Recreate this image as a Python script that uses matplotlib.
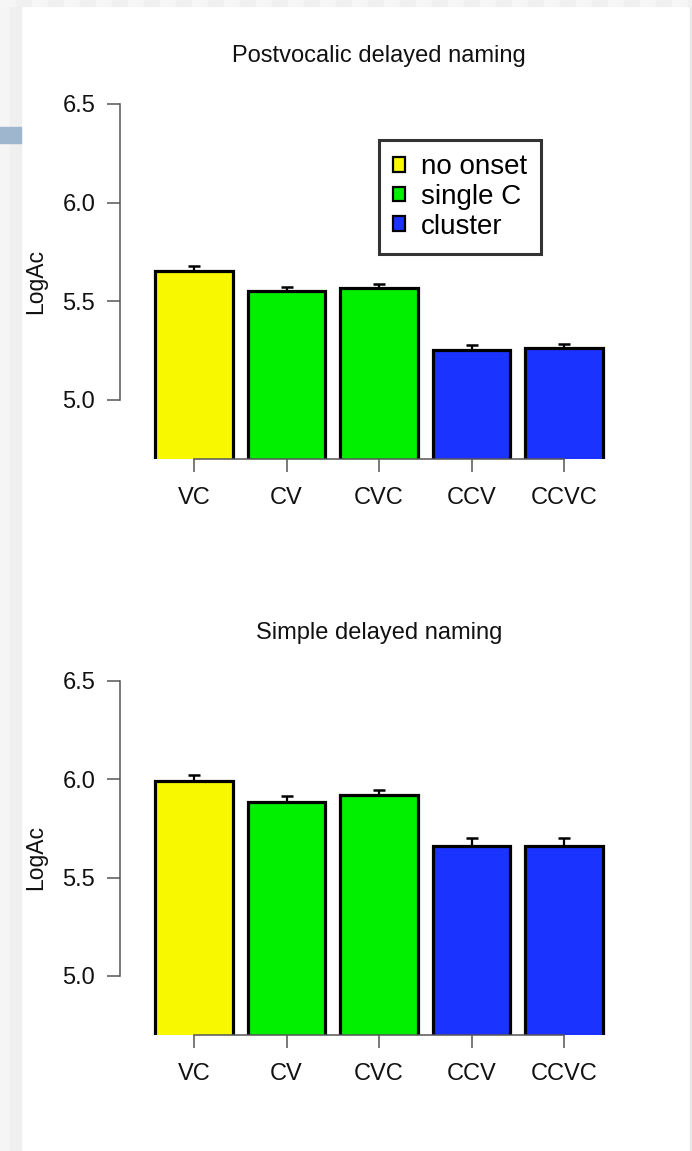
import matplotlib
matplotlib.use("Agg")
import matplotlib.pyplot as plt
from matplotlib.patches import Patch, Rectangle

plt.rcParams['font.family'] = ['Liberation Sans', 'DejaVu Sans']

# data
categories = ['VC', 'CV', 'CVC', 'CCV', 'CCVC']
onset_type = ['no onset', 'single C', 'single C', 'cluster', 'cluster']
onset_colors = {'no onset': '#F8F800', 'single C': '#00F000', 'cluster': '#1A33FF'}

post_means = [5.655, 5.553, 5.567, 5.255, 5.261]
post_se = [0.025, 0.021, 0.022, 0.024, 0.024]

simple_means = [5.991, 5.884, 5.919, 5.661, 5.661]
simple_se = [0.030, 0.029, 0.027, 0.039, 0.039]

y_ticks = [5.0, 5.5, 6.0, 6.5]

W, H = 692, 1151
fig = plt.figure(figsize=(W / 100, H / 100), dpi=100)

# page background (screenshot border)
deco = [
    (0, 0, 10, H, '#f5f5f5'),
    (10, 0, 21, H, '#efefef'),
    (690, 0, 692, H, '#e8e8e8'),
]
for x0, y0, x1, y1, c in deco:
    fig.patches.append(Rectangle((x0 / W, 1 - y1 / H), (x1 - x0) / W, (y1 - y0) / H,
                                 transform=fig.transFigure, color=c, zorder=-5))
for i in range(0, W, 16):
    c = '#f0f0f0' if (i // 16) % 2 else '#f6f6f6'
    fig.patches.append(Rectangle((i / W, 1 - 6 / H), 16 / W, 6 / H,
                                 transform=fig.transFigure, color=c, zorder=-5))
fig.patches.append(Rectangle((0, 1 - 143 / H), 21 / W, 16 / H,
                             transform=fig.transFigure, color='#9fb6cf', zorder=-4))


def px_axes(l, t, r, b):
    return fig.add_axes([l / W, 1 - b / H, (r - l) / W, (b - t) / H])


def bar_panel(ax, means, se, title):
    x = list(range(len(categories)))
    cols = [onset_colors[o] for o in onset_type]
    ax.errorbar(x, means, yerr=se, fmt='none', ecolor='black', elinewidth=1.6,
                capsize=4.5, capthick=1.8, zorder=0.5)
    ax.bar(x, means, width=0.84, color=cols, edgecolor='black', linewidth=2.3, zorder=1)
    ax.set_xlim(-0.8, 4.8)
    ax.set_ylim(4.70, 6.5)
    ax.patch.set_visible(False)
    for s in ['top', 'right']:
        ax.spines[s].set_visible(False)
    ax.spines['left'].set_bounds(5.0, 6.5)
    ax.spines['bottom'].set_bounds(0, 4)
    for s in ['left', 'bottom']:
        ax.spines[s].set_color('#555555')
        ax.spines[s].set_linewidth(1.1)
        ax.spines[s].set_zorder(3)
    ax.set_yticks(y_ticks)
    ax.set_yticklabels([f'{v:.1f}' for v in y_ticks])
    ax.set_xticks(x)
    ax.set_xticklabels(categories)
    ax.tick_params(axis='both', length=9.4, width=1.1, color='#555555',
                   labelsize=17, labelcolor='#111111')
    ax.tick_params(axis='y', pad=8.5)
    ax.tick_params(axis='x', pad=10.5)
    ax.set_ylabel('LogAc', fontsize=16.5, labelpad=11, color='#111111')
    ax.set_title(title, fontsize=17, pad=30, color='#111111')


ax1 = px_axes(120, 104, 638, 459)
bar_panel(ax1, post_means, post_se, 'Postvocalic delayed naming')

ax2 = px_axes(120, 681, 638, 1035)
bar_panel(ax2, simple_means, simple_se, 'Simple delayed naming')

handles = [Patch(facecolor=onset_colors[k], edgecolor='black', linewidth=1.6, label=k)
           for k in ['no onset', 'single C', 'cluster']]
leg = ax1.legend(handles=handles, loc='upper left',
                 bbox_to_anchor=(379 / W, 1 - 140 / H), bbox_transform=fig.transFigure,
                 borderaxespad=0, fontsize=20, handlelength=0.43, handleheight=0.43,
                 handletextpad=0.55, borderpad=0.52, labelspacing=0.13,
                 fancybox=False, frameon=True)
leg.get_frame().set_edgecolor('black')
leg.get_frame().set_linewidth(2.2)

fig.savefig('out.png', dpi=100, facecolor='white')
